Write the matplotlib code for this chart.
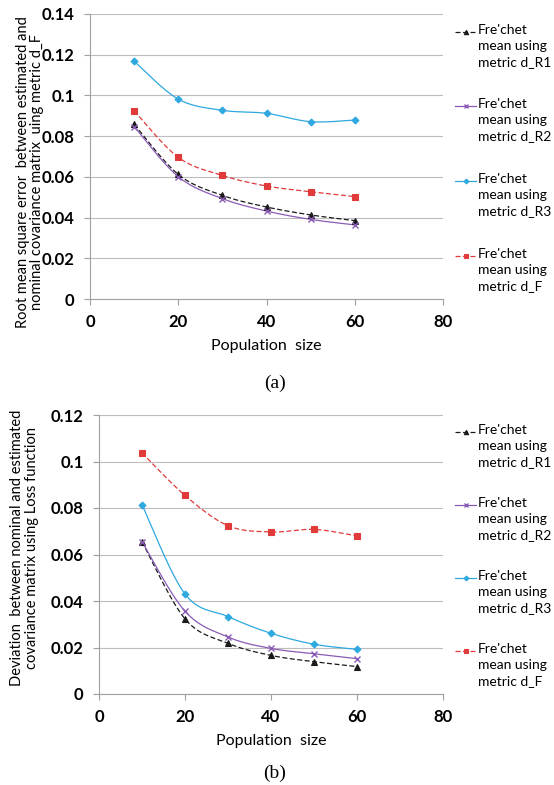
import numpy as np
import matplotlib
matplotlib.use("Agg")
import matplotlib.pyplot as plt
from matplotlib.lines import Line2D

W, H = 554, 785
DPI = 100
FONT = "Lato"
GRID = "#BDBDBD"

pop_size = [10, 20, 30, 40, 50, 60]
series_names = ["d_R1", "d_R2", "d_R3", "d_F"]

# (a) RMSE using metric d_F
rmse_r1 = [0.0858, 0.0612, 0.0509, 0.0452, 0.0413, 0.0385]
rmse_r2 = [0.0847, 0.0601, 0.0493, 0.0432, 0.0391, 0.0364]
rmse_r3 = [0.1168, 0.0982, 0.0927, 0.0912, 0.0871, 0.0879]
rmse_f  = [0.0924, 0.0696, 0.0607, 0.0555, 0.0527, 0.0503]

# (b) deviation using loss function
loss_r1 = [0.0655, 0.0323, 0.0218, 0.0166, 0.0139, 0.0118]
loss_r2 = [0.0655, 0.0356, 0.0245, 0.0196, 0.0173, 0.0152]
loss_r3 = [0.0814, 0.0430, 0.0333, 0.0261, 0.0214, 0.0192]
loss_f  = [0.1037, 0.0854, 0.0724, 0.0697, 0.0708, 0.0680]

STYLES = [
    dict(color="#1A1A1A", ls=(0, (4, 2)), marker="^", ms=4.5, mew=0.8),
    dict(color="#8A5BB5", ls="-", marker="x", ms=4.5, mew=1.0),
    dict(color="#2EA8DF", ls="-", marker="D", ms=3.5, mew=0.8),
    dict(color="#E03A3A", ls=(0, (4, 2)), marker="s", ms=5, mew=0.8),
]


def smooth(x, y, n=30):
    # excel-like smoothed line (catmull-rom bezier)
    p = np.column_stack([x, y]).astype(float)
    pts = np.vstack([p[0], p, p[-1]])
    out = []
    t = np.linspace(0, 1, n)[:, None]
    for i in range(1, len(pts) - 2):
        p0, p1, p2, p3 = pts[i - 1], pts[i], pts[i + 1], pts[i + 2]
        c1 = p1 + (p2 - p0) / 6
        c2 = p2 - (p3 - p1) / 6
        seg = ((1 - t) ** 3) * p1 + 3 * ((1 - t) ** 2) * t * c1 \
            + 3 * (1 - t) * t ** 2 * c2 + t ** 3 * p2
        out.append(seg)
    s = np.vstack(out)
    return s[:, 0], s[:, 1]


def px_axes(fig, left, top, right, bottom):
    return fig.add_axes([left / W, 1 - bottom / H, (right - left) / W,
                         (bottom - top) / H])


def draw_panel(ax, data, ymax, ylabel, label_x, label_y):
    for vals, st in zip(data, STYLES):
        sx, sy = smooth(pop_size, vals)
        ax.plot(sx, sy, color=st["color"], ls=st["ls"], lw=0.9, zorder=3)
        ax.plot(pop_size, vals, ls="none", marker=st["marker"], ms=st["ms"],
                color=st["color"], mew=st["mew"], zorder=4)
    ax.set_xlim(0, 80)
    ax.set_ylim(0, ymax)
    ax.set_xticks([0, 20, 40, 60, 80])
    yt = np.arange(0, ymax + 1e-9, 0.02)
    ax.set_yticks(yt)
    ax.set_yticklabels(["0" if v == 0 else f"{v:.2f}".rstrip("0") for v in yt])
    ax.yaxis.grid(True, color=GRID, lw=0.8)
    ax.set_axisbelow(True)
    for s in ["top", "right"]:
        ax.spines[s].set_visible(False)
    for s in ["left", "bottom"]:
        ax.spines[s].set_color("#A0A0A0")
        ax.spines[s].set_linewidth(0.8)
    ax.tick_params(axis="both", colors="#A0A0A0", length=4, width=0.8,
                   labelcolor="black", labelsize=12, pad=7)
    for lab in ax.get_xticklabels() + ax.get_yticklabels():
        lab.set_fontweight("bold")
        lab.set_family(FONT)
    ax.set_xlabel("Population  size", fontsize=11.5, family=FONT, labelpad=6)
    ax.set_ylabel(ylabel, fontsize=10.5, family=FONT, linespacing=1.05)
    ax.yaxis.set_label_coords(label_x, label_y)


def draw_legend(fig, x0, ys):
    for y, name, st in zip(ys, series_names, STYLES):
        yf = 1 - y / H
        fig.add_artist(Line2D([x0 / W, (x0 + 21) / W], [yf, yf],
                              color=st["color"], ls=st["ls"], lw=0.9,
                              transform=fig.transFigure))
        fig.add_artist(Line2D([(x0 + 10.5) / W], [yf], color=st["color"],
                              marker=st["marker"], ms=st["ms"] * 0.7,
                              mew=st["mew"], transform=fig.transFigure))
        fig.text((x0 + 23) / W, yf + 8 / H,
                 f"Fre'chet\nmean using\nmetric {name}", family=FONT,
                 fontsize=10, va="top", ha="left", linespacing=1.4)


fig = plt.figure(figsize=(W / DPI, H / DPI), dpi=DPI, facecolor="white")

ax1 = px_axes(fig, 90, 14, 443, 299)
draw_panel(ax1, [rmse_r1, rmse_r2, rmse_r3, rmse_f], 0.14,
           "Root mean square error  between estimated and\n"
           "nominal covariance matrix  uing metric d_F", -0.13, 0.446)

ax2 = px_axes(fig, 99, 415, 443, 694)
draw_panel(ax2, [loss_r1, loss_r2, loss_r3, loss_f], 0.12,
           "Deviation  between nominal and estimated\n"
           "covariance matrix using Loss function", -0.175, 0.523)

draw_legend(fig, 455, [32, 106, 181, 256])
draw_legend(fig, 455, [432, 505, 578, 651])

fig.text(275 / W, 1 - 383 / H, "(a)", family="Liberation Serif",
         fontsize=14, ha="center", va="center")
fig.text(275 / W, 1 - 773 / H, "(b)", family="Liberation Serif",
         fontsize=14, ha="center", va="center")

fig.savefig("out.png", dpi=DPI, facecolor="white")
